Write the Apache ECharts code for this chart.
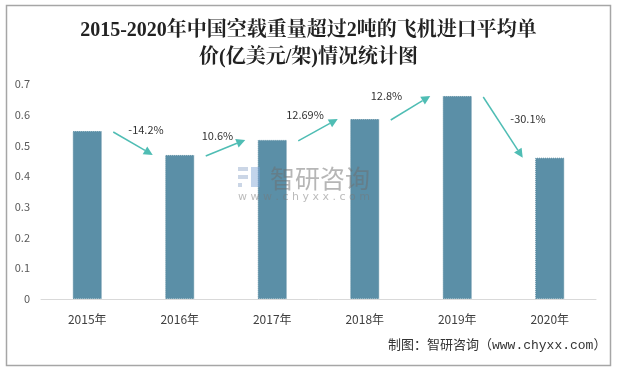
<!DOCTYPE html>
<html>
<head>
<meta charset="utf-8">
<script src="https://cdn.jsdelivr.net/npm/echarts@6/dist/echarts.min.js"></script>
<style>
html,body{margin:0;padding:0;background:#fff;}
#c{width:617px;height:370px;}
</style>
</head>
<body>
<div id="c"></div>
<script>
var categories = ['2015年', '2016年', '2017年', '2018年', '2019年', '2020年'];
var prices = [0.547, 0.469, 0.518, 0.586, 0.661, 0.46];
var growthLabels = ['-14.2%', '10.6%', '12.69%', '12.8%', '-30.1%'];
var yTicks = [0, 0.1, 0.2, 0.3, 0.4, 0.5, 0.6, 0.7];

// label offsets relative to arrow midpoint (style only)
var labelOffsets = [[13, -14], [-8, -12], [-13, -15], [-24, -12], [25, -9]];

var arrowData = growthLabels.map(function (t, i) { return [i, prices[i], i + 1, prices[i + 1]]; });

var chart = echarts.init(document.getElementById('c'));
var CJK = '"Microsoft YaHei","Noto Sans CJK SC",sans-serif';
var teal = '#4fbdb4';

chart.setOption({
  animation: false,
  backgroundColor: '#fff',
  title: {
    text: '2015-2020年中国空载重量超过2吨的飞机进口平均单\n价(亿美元/架)情况统计图',
    left: 'center',
    top: 12,
    textStyle: {
      fontFamily: '"Liberation Serif","Noto Serif CJK SC","Noto Sans CJK SC",serif',
      fontSize: 20,
      fontWeight: 'bold',
      color: '#222',
      lineHeight: 27
    }
  },
  grid: { left: 41, right: 21, top: 84, bottom: 71, containLabel: false },
  xAxis: {
    type: 'category',
    data: categories,
    axisLine: { lineStyle: { color: '#d9d9d9', width: 1 } },
    axisTick: { show: false },
    axisLabel: { color: '#404040', fontSize: 12, margin: 14, fontFamily: CJK }
  },
  yAxis: {
    type: 'value',
    min: 0, max: 0.7, interval: 0.1,
    axisLine: { show: false },
    axisTick: { show: false },
    splitLine: { show: false },
    axisLabel: {
      color: '#595959', fontSize: 11, margin: 11, fontFamily: CJK,
      formatter: function (v) { var r = Math.round(v * 10) / 10; return yTicks.indexOf(r) >= 0 ? String(r) : ''; }
    }
  },
  series: [
    {
      type: 'bar',
      data: prices,
      barWidth: 29,
      itemStyle: { color: '#5b8fa7', borderColor: '#52869d', borderWidth: 1, borderType: 'dotted' },
      z: 2
    },
    {
      type: 'custom',
      data: arrowData,
      z: 5,
      renderItem: function (params, api) {
        var p0 = api.coord([api.value(0), api.value(1)]);
        var p1 = api.coord([api.value(2), api.value(3)]);
        var x0 = p0[0] + 26, y0 = p0[1] + 1;
        var x1 = p1[0] - 27, y1 = p1[1];
        var ang = Math.atan2(y1 - y0, x1 - x0);
        var hl = 9, hw = 4.5;
        var bx = x1 - hl * Math.cos(ang), by = y1 - hl * Math.sin(ang);
        var nx = -Math.sin(ang), ny = Math.cos(ang);
        var idx = params.dataIndex;
        var off = labelOffsets[idx];
        var mx = (x0 + x1) / 2 + off[0], my = (y0 + y1) / 2 + off[1];
        return {
          type: 'group',
          children: [
            { type: 'line', shape: { x1: x0, y1: y0, x2: bx, y2: by }, style: { stroke: teal, lineWidth: 1.5 } },
            { type: 'polygon', shape: { points: [[x1, y1], [bx + nx * hw, by + ny * hw], [bx - nx * hw, by - ny * hw]] }, style: { fill: teal } },
            { type: 'text', x: mx, y: my, style: { text: growthLabels[idx], fill: '#333', fontSize: 11, fontFamily: CJK, align: 'center', verticalAlign: 'middle' } }
          ]
        };
      }
    }
  ],
  graphic: [
    { type: 'rect', shape: { x: 6.5, y: 5.5, width: 604, height: 360 }, style: { fill: 'none', stroke: '#a6a6a6', lineWidth: 1.5 }, silent: true, z: 0 },
    { type: 'text', left: 388, top: 339, style: { text: '制图：智研咨询（www.chyxx.com）', fill: '#333', fontSize: 13, fontFamily: '"Liberation Mono","Noto Sans CJK SC",monospace' }, z: 10 },
    // watermark
    { type: 'group', left: 238, top: 166, zlevel: 1, z: 100, silent: true, children: [
      { type: 'rect', z: 100, shape: { x: 0, y: 0, width: 10, height: 4 }, style: { fill: 'rgba(160,180,210,0.55)' } },
      { type: 'rect', z: 100, shape: { x: 0, y: 8, width: 10, height: 4 }, style: { fill: 'rgba(160,180,210,0.55)' } },
      { type: 'rect', z: 100, shape: { x: 0, y: 16, width: 4, height: 4 }, style: { fill: 'rgba(160,180,210,0.55)' } },
      { type: 'rect', z: 100, shape: { x: 13, y: 0, width: 9, height: 20 }, style: { fill: 'rgba(120,160,210,0.45)' } },
      { type: 'text', z: 100, x: 32, y: -1, style: { text: '智研咨询', fill: 'rgba(110,110,110,0.5)', fontSize: 25, fontFamily: '"Noto Sans CJK SC",sans-serif' } },
      { type: 'text', z: 100, x: 0, y: 25, style: { text: 'w w w . c h y x x . c o m', fill: 'rgba(120,120,120,0.5)', fontSize: 11, fontFamily: '"DejaVu Sans",sans-serif' } }
    ] }
  ]
});
</script>
</body>
</html>
